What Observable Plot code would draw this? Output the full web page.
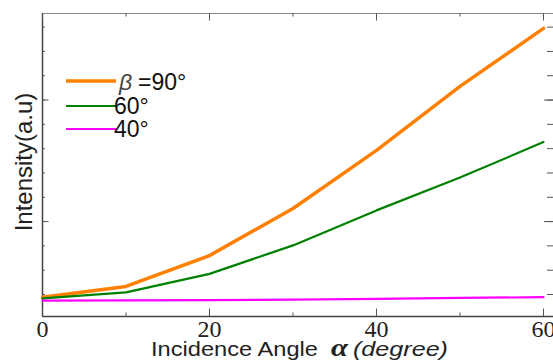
<!DOCTYPE html>
<html><head><meta charset="utf-8">
<script src="https://cdn.jsdelivr.net/npm/d3@7"></script>
<script src="https://cdn.jsdelivr.net/npm/@observablehq/plot@0.6"></script>
<style>html,body{margin:0;padding:0;background:#fff;overflow:hidden}</style>
</head><body><div id="chart"></div>
<script>
// Data (intensity in arbitrary units = tick steps)
const angles = [0, 10, 20, 30, 40, 50, 60];
const beta90 = [-0.11, 0.33, 1.60, 3.54, 5.93, 8.56, 10.95];
const beta60 = [-0.16, 0.09, 0.85, 2.02, 3.46, 4.81, 6.27];
const beta40 = [-0.25, -0.24, -0.23, -0.21, -0.18, -0.14, -0.11];
const seriesNames = ["=90°", "60°", "40°"];
const seriesColors = ["#ff8000", "#008000", "#ff00ff"];
const seriesWidths = [3.5, 2.2, 2.2];
const xTickLabels = [0, 20, 40, 60];
const xMinorTicks = [0, 10, 20, 30, 40, 50, 60];
const yMinorTicks = [0, 1, 2, 3, 4, 5, 6, 7, 8, 9, 10, 11];
const yMajorTicks = [3, 8];
const xTitle = ["Incidence Angle", "α", "(degree)"];
const yTitle = "Intensity(a.u)";

const xDomain = [0, 61.2];
const yDomain = [-0.905, 11.56];

const W = 553, H = 360;
const mL = 42, mR = 0, mT = 13, mB = 44;
const pw = W - mL - mR, ph = H - mT - mB;

const seriesValues = [beta90, beta60, beta40];
const rows = [];
seriesValues.forEach((vals, s) => vals.forEach((v, i) => rows.push({series: s, angle: angles[i], value: v})));

const axisColor = "#555";
const font = "Arial, 'Liberation Sans', Helvetica, sans-serif";
const serif = "'Liberation Serif', 'Times New Roman', serif";

function titles(index, scales, values, dimensions) {
  const g = d3.create("svg:g").attr("text-anchor", "start").attr("fill", "#222");
  // x title
  g.append("text").attr("x", 151).attr("y", 356)
    .attr("font-family", font).attr("font-size", 21)
    .attr("textLength", 167).attr("lengthAdjust", "spacingAndGlyphs").text(xTitle[0]);
  g.append("text").attr("x", 331).attr("y", 356)
    .attr("font-family", serif).attr("font-size", 25).attr("font-style", "italic").attr("font-weight", "bold")
    .attr("textLength", 17).attr("lengthAdjust", "spacingAndGlyphs").text(xTitle[1]);
  g.append("text").attr("x", 353).attr("y", 356)
    .attr("font-family", font).attr("font-size", 21).attr("font-style", "italic")
    .attr("textLength", 95).attr("lengthAdjust", "spacingAndGlyphs").text(xTitle[2]);
  // y title
  g.append("text")
    .attr("transform", "translate(32,162) rotate(-90)")
    .attr("text-anchor", "middle")
    .attr("font-family", font).attr("font-size", 24)
    .text(yTitle);
  return g.node();
}

function legend() {
  const g = d3.create("svg:g").attr("text-anchor", "start");
  const ys = [81, 106, 129];
  const baselines = [90, 114, 137];
  seriesNames.forEach((name, i) => {
    g.append("line").attr("x1", 66).attr("x2", 116).attr("y1", ys[i]).attr("y2", ys[i])
      .attr("stroke", seriesColors[i]).attr("stroke-width", seriesWidths[i]);
    if (i === 0) {
      g.append("text").attr("x", 119).attr("y", baselines[i])
        .attr("font-family", font).attr("font-size", 23).attr("font-style", "italic").attr("fill", "#444")
        .text("β");
      g.append("text").attr("x", 138).attr("y", baselines[i])
        .attr("font-family", font).attr("font-size", 23).attr("fill", "#111").text(name);
    } else {
      g.append("text").attr("x", 114).attr("y", baselines[i])
        .attr("font-family", font).attr("font-size", 23).attr("fill", "#111").text(name);
    }
  });
  return g.node();
}

const chart = Plot.plot({
  width: W, height: H,
  marginLeft: mL, marginRight: mR, marginTop: mT, marginBottom: mB,
  x: {domain: xDomain, axis: null},
  y: {domain: yDomain, axis: null},
  style: {background: "#fff", overflow: "visible"},
  marks: [
    // frame lines
    Plot.ruleY([yDomain[1]], {stroke: "#888", strokeWidth: 1.2}),
    Plot.ruleX([xDomain[0]], {stroke: "#444", strokeWidth: 1.5}),
    Plot.ruleY([yDomain[0]], {stroke: "#444", strokeWidth: 1.5}),
    // bottom & top ticks
    Plot.ruleX(xMinorTicks, {x: d => d, insetTop: ph - 3.5, stroke: axisColor}),
    Plot.ruleX(xTickLabels, {x: d => d, insetTop: ph - 7.5, stroke: axisColor}),
    Plot.ruleX(xMinorTicks, {x: d => d, insetBottom: ph - 3.5, stroke: axisColor}),
    Plot.ruleX(xTickLabels, {x: d => d, insetBottom: ph - 7.5, stroke: axisColor}),
    // left & right ticks
    Plot.ruleY(yMinorTicks, {y: d => d, insetRight: pw - 3, stroke: axisColor}),
    Plot.ruleY(yMajorTicks, {y: d => d, insetRight: pw - 6.5, stroke: axisColor}),
    Plot.ruleY(yMinorTicks, {y: d => d, insetLeft: pw - 6, stroke: axisColor}),
    Plot.ruleY(yMajorTicks, {y: d => d, insetLeft: pw - 9, stroke: axisColor}),
    // tick labels
    Plot.text(xTickLabels, {x: d => d, frameAnchor: "bottom", text: d => String(d), lineAnchor: "top", dy: 3,
      fontFamily: serif, fontSize: 24, fill: "#222"}),
    // data lines
    ...seriesValues.map((vals, s) => Plot.line(rows.filter(r => r.series === s), {x: "angle", y: "value",
      stroke: seriesColors[s], strokeWidth: seriesWidths[s], strokeLinejoin: "round", strokeLinecap: "round"})),
    legend,
    titles
  ]
});
document.getElementById("chart").appendChild(chart);
</script>
</body></html>
